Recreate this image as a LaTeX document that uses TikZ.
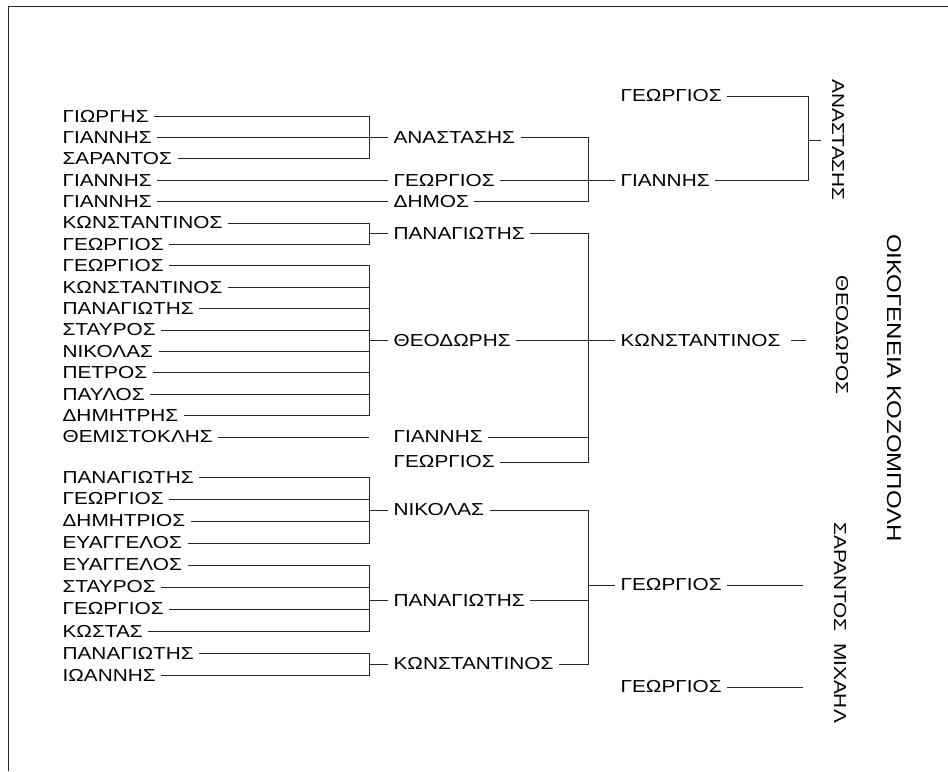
\documentclass[tikz,border=0pt]{standalone}
\usepackage{fontspec}
\setmainfont{Liberation Sans}[FakeStretch=1.2]
\tikzset{
  person/.style={anchor=west, inner xsep=4pt, inner ysep=1pt, font=\fontsize{13pt}{15pt}\selectfont},
  vperson/.style={anchor=center, rotate=-90, inner xsep=0pt, inner ysep=6pt, font=\fontsize{13pt}{15pt}\selectfont},
  heading/.style={anchor=center, rotate=-90, inner sep=2pt, font=\fontsize{15pt}{18pt}\selectfont},
  link/.style={line width=0.6pt, black!85}
}
\begin{document}
\begin{tikzpicture}[x=0.75pt, y=-0.75pt]
  \useasboundingbox (0,0) rectangle (948,771);
  \draw[link] (8,771) -- (8,6) -- (948,6);
  % oldest generation (left column)
  \node[person] (l1) at (57,116) {ΓΙΩΡΓΗΣ};
  \node[person] (l2) at (57,137.4) {ΓΙΑΝΝΗΣ};
  \node[person] (l3) at (57,158.8) {ΣΑΡΑΝΤΟΣ};
  \node[person] (l4) at (57,180.2) {ΓΙΑΝΝΗΣ};
  \node[person] (l5) at (57,201.6) {ΓΙΑΝΝΗΣ};
  \node[person] (l6) at (57,223) {ΚΩΝΣΤΑΝΤΙΝΟΣ};
  \node[person] (l7) at (57,244.4) {ΓΕΩΡΓΙΟΣ};
  \node[person] (l8) at (57,265.8) {ΓΕΩΡΓΙΟΣ};
  \node[person] (l9) at (57,287.2) {ΚΩΝΣΤΑΝΤΙΝΟΣ};
  \node[person] (l10) at (57,308.6) {ΠΑΝΑΓΙΩΤΗΣ};
  \node[person] (l11) at (57,330) {ΣΤΑΥΡΟΣ};
  \node[person] (l12) at (57,351.4) {ΝΙΚΟΛΑΣ};
  \node[person] (l13) at (57,372.8) {ΠΕΤΡΟΣ};
  \node[person] (l14) at (57,394.2) {ΠΑΥΛΟΣ};
  \node[person] (l15) at (57,415.6) {ΔΗΜΗΤΡΗΣ};
  \node[person] (l16) at (57,437) {ΘΕΜΙΣΤΟΚΛΗΣ};
  \node[person] (l17) at (57,477) {ΠΑΝΑΓΙΩΤΗΣ};
  \node[person] (l18) at (57,499) {ΓΕΩΡΓΙΟΣ};
  \node[person] (l19) at (57,521) {ΔΗΜΗΤΡΙΟΣ};
  \node[person] (l20) at (57,543) {ΕΥΑΓΓΕΛΟΣ};
  \node[person] (l21) at (57,565) {ΕΥΑΓΓΕΛΟΣ};
  \node[person] (l22) at (57,587) {ΣΤΑΥΡΟΣ};
  \node[person] (l23) at (57,609) {ΓΕΩΡΓΙΟΣ};
  \node[person] (l24) at (57,631) {ΚΩΣΤΑΣ};
  \node[person] (l25) at (57,653) {ΠΑΝΑΓΙΩΤΗΣ};
  \node[person] (l26) at (57,675) {ΙΩΑΝΝΗΣ};
  % second column
  \node[person] (anast) at (388,137.4) {ΑΝΑΣΤΑΣΗΣ};
  \node[person] (geoA) at (388,180.2) {ΓΕΩΡΓΙΟΣ};
  \node[person] (dimos) at (388,201.6) {ΔΗΜΟΣ};
  \node[person] (panA) at (388,233.7) {ΠΑΝΑΓΙΩΤΗΣ};
  \node[person] (theodoris) at (388,340.7) {ΘΕΟΔΩΡΗΣ};
  \node[person] (giannisB) at (388,437) {ΓΙΑΝΝΗΣ};
  \node[person] (geoB) at (388,462) {ΓΕΩΡΓΙΟΣ};
  \node[person] (nikolas) at (388,510) {ΝΙΚΟΛΑΣ};
  \node[person] (panB) at (388,600) {ΠΑΝΑΓΙΩΤΗΣ};
  \node[person] (konB) at (388,664) {ΚΩΝΣΤΑΝΤΙΝΟΣ};
  % third column
  \node[person] (geoTop) at (615,96) {ΓΕΩΡΓΙΟΣ};
  \node[person] (giannisC) at (615,180.2) {ΓΙΑΝΝΗΣ};
  \node[person] (konC) at (615,340.7) {ΚΩΝΣΤΑΝΤΙΝΟΣ};
  \node[person] (geoC) at (615,585) {ΓΕΩΡΓΙΟΣ};
  \node[person] (geoD) at (615,687) {ΓΕΩΡΓΙΟΣ};
  % founders, written sideways
  \node[vperson] (anastV) at (838,140) {ΑΝΑΣΤΑΣΗΣ};
  \node[vperson] (theodorosV) at (842,335) {ΘΕΟΔΩΡΟΣ};
  \node[vperson] (sarantosV) at (840,577) {ΣΑΡΑΝΤΟΣ};
  \node[vperson] (michailV) at (840,683) {ΜΙΧΑΗΛ};
  \node[heading] (family) at (894,388) {ΟΙΚΟΓΕΝΕΙΑ ΚΟΖΟΜΠΟΛΗ};
  % bars
  \coordinate (bx1) at (369,0);
  \coordinate (bx2) at (588,0);
  \coordinate (bx3) at (808,0);
  \coordinate (jAnast) at (bx1 |- anast.west);
  \coordinate (jPanA) at (bx1 |- panA.west);
  \coordinate (jTheo) at (bx1 |- theodoris.west);
  \coordinate (jNik) at (bx1 |- nikolas.west);
  \coordinate (jPanB) at (bx1 |- panB.west);
  \coordinate (jKonB) at (bx1 |- konB.west);
  \coordinate (jGiannis) at (bx2 |- giannisC.west);
  \coordinate (jKon) at (bx2 |- konC.west);
  \coordinate (jGeo) at (bx2 |- geoC.west);
  \coordinate (jAnastV) at (bx3 |- anastV.south);
  % left column to second column
  \draw[link] (l1.east) -| (jAnast);
  \draw[link] (l2.east) -- (jAnast);
  \draw[link] (l3.east) -| (jAnast);
  \draw[link] (jAnast) -- (anast.west);
  \draw[link] (l4.east) -- (geoA.west);
  \draw[link] (l5.east) -- (dimos.west);
  \draw[link] (l6.east) -| (jPanA);
  \draw[link] (l7.east) -| (jPanA);
  \draw[link] (jPanA) -- (panA.west);
  \draw[link] (l8.east) -| (jTheo);
  \draw[link] (l9.east) -| (jTheo);
  \draw[link] (l10.east) -| (jTheo);
  \draw[link] (l11.east) -| (jTheo);
  \draw[link] (l12.east) -| (jTheo);
  \draw[link] (l13.east) -| (jTheo);
  \draw[link] (l14.east) -| (jTheo);
  \draw[link] (l15.east) -| (jTheo);
  \draw[link] (jTheo) -- (theodoris.west);
  \draw[link] (l16.east) -- (l16.east -| bx1);
  \draw[link] (l17.east) -| (jNik);
  \draw[link] (l18.east) -| (jNik);
  \draw[link] (l19.east) -| (jNik);
  \draw[link] (l20.east) -| (jNik);
  \draw[link] (jNik) -- (nikolas.west);
  \draw[link] (l21.east) -| (jPanB);
  \draw[link] (l22.east) -| (jPanB);
  \draw[link] (l23.east) -| (jPanB);
  \draw[link] (l24.east) -| (jPanB);
  \draw[link] (jPanB) -- (panB.west);
  \draw[link] (l25.east) -| (jKonB);
  \draw[link] (l26.east) -| (jKonB);
  \draw[link] (jKonB) -- (konB.west);
  % second column to third column
  \draw[link] (anast.east) -| (jGiannis);
  \draw[link] (geoA.east) -- (giannisC.west);
  \draw[link] (dimos.east) -| (jGiannis);
  \draw[link] (panA.east) -| (jKon);
  \draw[link] (theodoris.east) -- (konC.west);
  \draw[link] (giannisB.east) -| (jKon);
  \draw[link] (geoB.east) -| (jKon);
  \draw[link] (nikolas.east) -| (jGeo);
  \draw[link] (panB.east) -| (jGeo);
  \draw[link] (konB.east) -| (jGeo);
  \draw[link] (jGeo) -- (geoC.west);
  % third column to founders
  \draw[link] (geoTop.east) -| (jAnastV);
  \draw[link] (giannisC.east) -| (jAnastV);
  \draw[link, shorten >=2pt] (jAnastV) -- (anastV.south);
  \draw[link, shorten <=4pt, shorten >=16pt] (konC.east) -- (konC.east -| theodorosV.south);
  \draw[link, shorten >=17pt] (geoC.east) -- (geoC.east -| sarantosV.south);
  \draw[link, shorten >=17pt] (geoD.east) -- (geoD.east -| michailV.south);
\end{tikzpicture}
\end{document}
